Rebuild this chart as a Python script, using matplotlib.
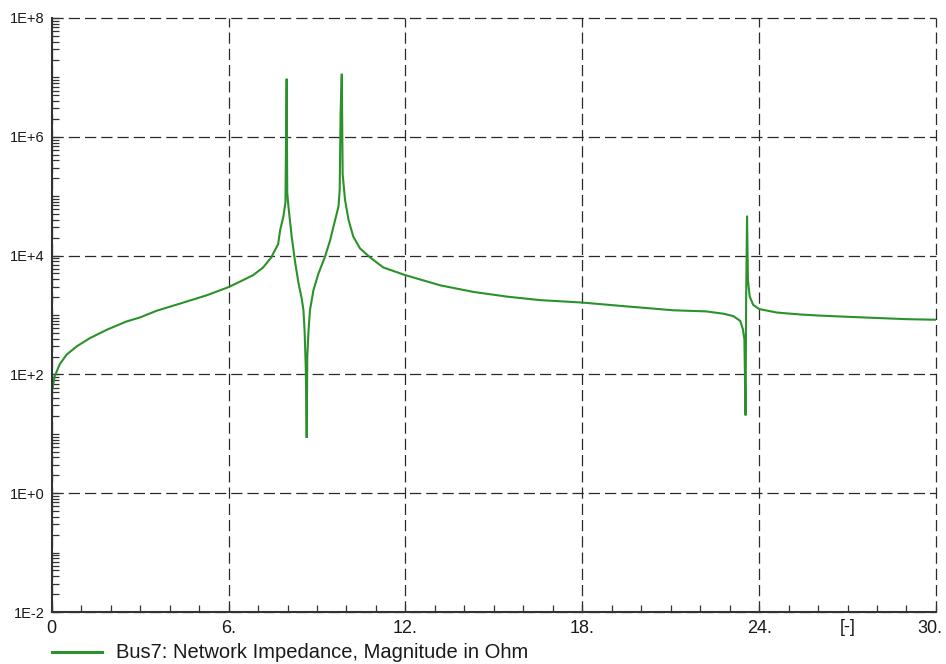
import matplotlib
matplotlib.use("Agg")
import matplotlib.pyplot as plt
from matplotlib.lines import Line2D
from matplotlib.transforms import ScaledTranslation
from matplotlib.ticker import FixedLocator, MultipleLocator, LogLocator, NullFormatter

# harmonic order [-] and impedance magnitude [Ohm] at Bus7
harmonic_order = [
    0.00, 0.10, 0.27, 0.50, 0.84, 1.29, 1.86, 2.53, 3.00, 3.55,
    4.34, 5.25, 6.00, 6.38, 6.83, 7.17, 7.45, 7.52, 7.68, 7.75,
    7.86, 7.93, 7.95, 7.97, 7.99, 8.03, 8.14, 8.26, 8.37, 8.48,
    8.54, 8.58, 8.62, 8.65, 8.67, 8.71, 8.76, 8.88, 9.05, 9.27,
    9.44, 9.56, 9.73, 9.77, 9.80, 9.84, 9.87, 9.95, 10.07, 10.23,
    10.46, 10.80, 11.25, 12.00, 13.18, 14.30, 15.44, 16.57, 18.00, 19.40,
    21.10, 22.20, 22.80, 23.13, 23.36, 23.45, 23.50, 23.54, 23.56, 23.59,
    23.62, 23.68, 23.80, 24.00, 24.60, 25.40, 26.07, 27.00, 28.00, 29.00,
    30.00,
]
impedance_ohm = [
    50, 93, 148, 214, 295, 407, 562, 776, 912, 1175,
    1550, 2140, 2950, 3630, 4680, 6310, 9330, 11000, 15500, 26900,
    45700, 79400, 1.0e6, 9.5e6, 1.15e5, 67600, 20900, 7590, 3470, 1905,
    1200, 525, 120, 8.5, 200, 525, 1200, 2630, 5010, 9550,
    17800, 30900, 67600, 129000, 2.5e6, 1.15e7, 234000, 87100, 39800, 20900,
    13200, 9330, 6310, 4680, 3160, 2450, 2040, 1780, 1620, 1410,
    1200, 1150, 1050, 955, 794, 575, 389, 20.4, 2000, 46800,
    3890, 2040, 1480, 1260, 1100, 1020, 977, 933, 891, 851,
    832,
]

x_major = [0, 6, 12, 18, 24, 30]
x_tick_labels = ["0", "6.", "12.", "18.", "24.", "30."]
unit_label = "[-]"
unit_pos = 27
y_major = [1e-2, 1e0, 1e2, 1e4, 1e6, 1e8]
y_tick_labels = ["1E-2", "1E+0", "1E+2", "1E+4", "1E+6", "1E+8"]
legend_text = "Bus7: Network Impedance, Magnitude in Ohm"

line_color = "#2b922b"
grid_color = "#2a2a2a"
narrow = ["Liberation Sans Narrow", "Liberation Sans", "DejaVu Sans"]

fig = plt.figure(figsize=(9.46, 6.64), dpi=100)
ax = fig.add_axes([0.0547, 0.0783, 0.9347, 0.8946])

ax.plot(harmonic_order, impedance_ohm, color=line_color, linewidth=1.5,
        solid_joinstyle="miter", zorder=3)

ax.set_yscale("log")
ax.set_xlim(0, 30)
ax.set_ylim(1e-2, 1e8)

# ticks: majors labelled, minors every unit / every log sub-step
ax.xaxis.set_major_locator(FixedLocator(x_major))
ax.xaxis.set_minor_locator(MultipleLocator(1))
ax.set_xticklabels(x_tick_labels)
ax.yaxis.set_major_locator(FixedLocator(y_major))
ax.yaxis.set_minor_locator(LogLocator(base=10, subs=range(1, 10), numticks=30))
ax.yaxis.set_minor_formatter(NullFormatter())
ax.set_yticklabels(y_tick_labels)

ax.tick_params(axis="both", which="both", direction="in", color="#333333",
               width=0.9, length=5, top=False, right=False)
ax.tick_params(axis="x", which="major", pad=6, labelsize=13, labelcolor="#1a1a1a")
ax.tick_params(axis="y", which="major", pad=5, labelsize=10.5, labelcolor="#1a1a1a")
for lab in ax.get_xticklabels():
    lab.set_family(narrow)
for lab in ax.get_yticklabels():
    lab.set_family(["Liberation Sans", "DejaVu Sans"])

# last x label would run off the right edge, pull it in a little
last = ax.get_xticklabels()[-1]
last.set_transform(last.get_transform() + ScaledTranslation(-6 / 100, 0, fig.dpi_scale_trans))

# unit marker sits in the x tick row
ax.text(unit_pos, -0.012, unit_label, transform=ax.get_xaxis_transform(),
        ha="center", va="top", fontsize=13, family=narrow, color="#1a1a1a")

# dashed grid, also closing off the top and right edges
ax.grid(True, which="major", color=grid_color, linestyle=(0, (9, 4)), linewidth=0.9)
for gl in ax.get_xgridlines() + ax.get_ygridlines():
    gl.set_clip_on(False)

for side in ("top", "right"):
    ax.spines[side].set_visible(False)
for side in ("left", "bottom"):
    ax.spines[side].set_color("#333333")
    ax.spines[side].set_linewidth(1.5)
    ax.spines[side].set_zorder(4)

# legend entry below the plot
fig.add_artist(Line2D([52 / 946, 102 / 946], [1 - 652 / 664, 1 - 652 / 664],
                      color=line_color, linewidth=2.2))
fig.text(116 / 946, 1 - 653 / 664, legend_text, ha="left", va="center",
         fontsize=14.5, family=narrow, color="#1a1a1a")

fig.savefig("out.png", dpi=100)
